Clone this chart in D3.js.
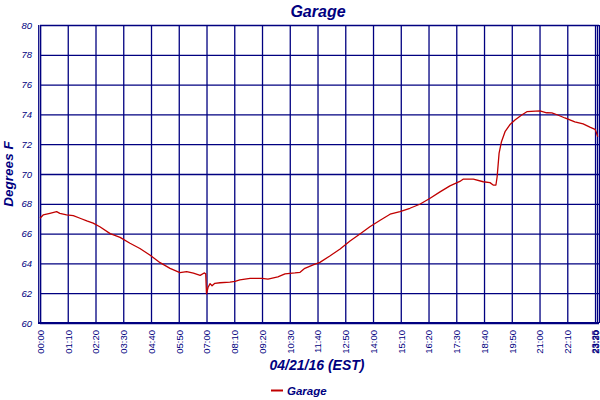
<!DOCTYPE html>
<html><head><meta charset="utf-8">
<script src="https://cdn.jsdelivr.net/npm/d3@7"></script>
<style>
html,body{margin:0;padding:0;background:#fff;}
svg{display:block;}
text{font-family:"Liberation Sans",Arial,sans-serif;fill:#000080;}
</style></head>
<body>
<svg id="chart" width="600" height="400"></svg>
<script>
// Minutes after midnight and temperature (°F)
const minutes = [0,8,25,42,50,67,84,101,118,134,151,177,202,227,252,277,303,328,353,370,387,404,414,418,420,424,429,434,441,454,479,492,504,530,560,575,600,618,643,656,668,689,706,731,757,782,807,832,858,883,908,933,958,984,1009,1034,1059,1068,1093,1118,1135,1143,1150,1153,1158,1164,1173,1185,1198,1215,1228,1261,1278,1291,1306,1324,1349,1370,1387,1400,1403,1407];
const temps = [67.03,67.25,67.36,67.47,67.36,67.25,67.2,67.03,66.85,66.7,66.46,66.0,65.75,65.35,65.0,64.56,64.05,63.67,63.38,63.45,63.34,63.2,63.36,63.3,61.95,62.4,62.64,62.5,62.66,62.7,62.75,62.8,62.9,63.0,63.0,62.95,63.1,63.3,63.36,63.4,63.67,63.9,64.07,64.5,64.97,65.5,65.97,66.46,66.9,67.3,67.47,67.7,67.97,68.37,68.8,69.2,69.5,69.66,69.66,69.48,69.42,69.26,69.26,69.8,71.4,72.17,72.84,73.3,73.62,73.96,74.18,74.23,74.11,74.1,73.96,73.76,73.5,73.36,73.15,73.0,72.8,72.5];
const xTickValues = [0,70,140,210,280,350,420,490,560,630,700,770,840,910,980,1050,1120,1190,1260,1330,1400,1405,1410];
const xTickLabels = ["00:00","01:10","02:20","03:30","04:40","05:50","07:00","08:10","09:20","10:30","11:40","12:50","14:00","15:10","16:20","17:30","18:40","19:50","21:00","22:10","23:20","23:25","23:30"];
const yTickValues = [60,62,64,66,68,70,72,74,76,78,80];
const seriesName = "Garage";
const chartTitle = "Garage";
const xTitle = "04/21/16 (EST)";
const yTitle = "Degrees F";

const navy = "#000080", red = "#c00000";
const L = 40, R = 599, T = 25, B = 323;
const svg = d3.select("#chart");
const x = d3.scaleLinear().domain([0,1410]).range([L,R]);
const y = d3.scaleLinear().domain([60,80]).range([B,T]);

// grid
const gy = svg.append("g").attr("transform",`translate(${L},0)`)
  .call(d3.axisLeft(y).tickValues(yTickValues).tickSize(-(R-L)).tickSizeOuter(0).tickFormat(d=>d).tickPadding(8));
gy.select(".domain").remove();
gy.selectAll("line").attr("stroke",navy).attr("stroke-width",1.3);
gy.selectAll("text").attr("font-size","9.5px").attr("font-style","italic").attr("fill",navy);

const gx = svg.append("g").attr("transform",`translate(0,${B})`)
  .call(d3.axisBottom(x).tickValues(xTickValues).tickSize(-(B-T)).tickSizeOuter(0)
    .tickFormat((d,i)=>xTickLabels[i]));
gx.select(".domain").remove();
gx.selectAll("line").attr("stroke",navy).attr("stroke-width",1.3);
gx.selectAll("text").attr("font-size","9.5px").attr("fill",navy)
  .attr("text-anchor","end").attr("transform","rotate(-90)")
  .attr("x",-7).attr("y",0)
  .attr("dy",(d,i)=> i===xTickValues.length-1 ? "-0.05em" : (i===xTickValues.length-2 ? "0.1em" : "0.35em"));

// frame
svg.append("line").attr("x1",L-1.3).attr("x2",L-1.3).attr("y1",T).attr("y2",B+1).attr("stroke",navy).attr("stroke-width",1.2);
svg.append("line").attr("x1",L+0.6).attr("x2",L+0.6).attr("y1",T).attr("y2",B+1).attr("stroke",navy).attr("stroke-width",1.2);
svg.append("line").attr("x1",L-2).attr("x2",R).attr("y1",B).attr("y2",B).attr("stroke",navy).attr("stroke-width",2);

// line
const data = minutes.map((m,i)=>({m, t:temps[i]}));
svg.append("path").datum(data).attr("fill","none").attr("stroke",red).attr("stroke-width",1.3)
  .attr("stroke-linejoin","round")
  .attr("d", d3.line().x(d=>x(d.m)).y(d=>y(d.t)));

// titles
svg.append("text").attr("x",318).attr("y",17).attr("text-anchor","middle")
  .attr("font-size","16px").attr("font-weight","bold").attr("font-style","italic").text(chartTitle);
svg.append("text").attr("x",317).attr("y",370).attr("text-anchor","middle")
  .attr("font-size","14px").attr("font-weight","bold").attr("font-style","italic").text(xTitle);
svg.append("text").attr("transform","translate(13,174) rotate(-90)").attr("text-anchor","middle")
  .attr("font-size","13.5px").attr("font-weight","bold").attr("font-style","italic").text(yTitle);

// legend
svg.append("line").attr("x1",271).attr("x2",283).attr("y1",390.5).attr("y2",390.5).attr("stroke",red).attr("stroke-width",2);
svg.append("text").attr("x",287).attr("y",394.5).attr("font-size","11.5px").attr("font-weight","bold").attr("font-style","italic").text(seriesName);
</script>
</body></html>
